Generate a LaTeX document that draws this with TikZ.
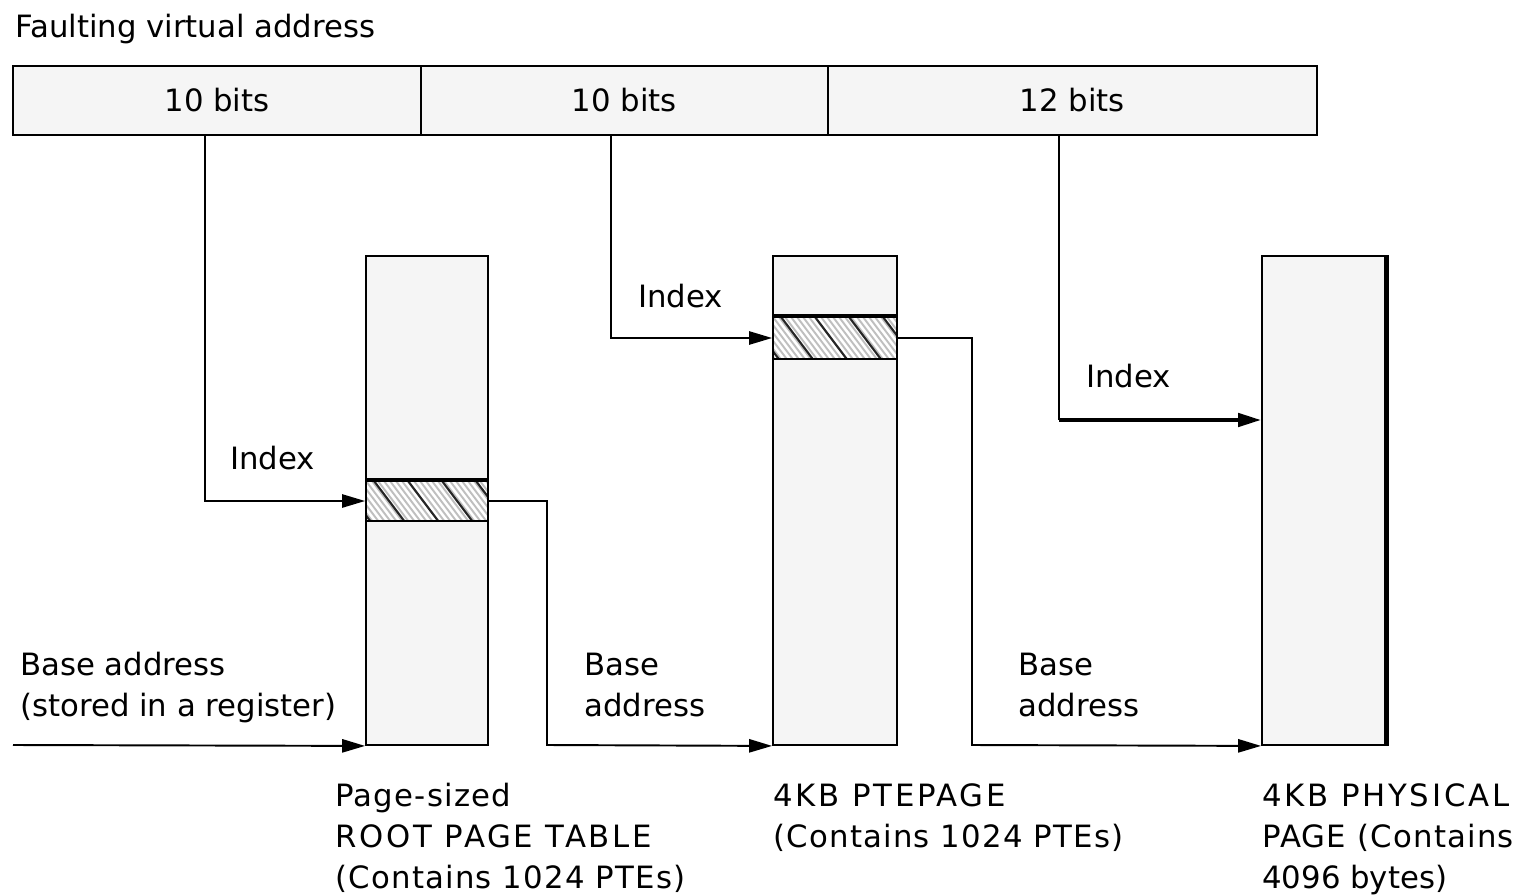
\documentclass[tikz,border=0pt]{standalone}
\usepackage{fontspec}
\setmainfont{DejaVu Sans}
\newfontfamily\spacedfont{DejaVu Sans}[LetterSpace=9]
\newfontfamily\lightspaced{DejaVu Sans}[LetterSpace=4]
\usetikzlibrary{arrows.meta,calc}
\definecolor{boxfill}{HTML}{F5F5F5}
\begin{document}
\begin{tikzpicture}[x=0.02cm,y=-0.02cm,
  box/.style={draw, fill=boxfill, line width=1.1pt, inner sep=0, font=\fontsize{17.5}{23}\selectfont},
  hatch/.style={draw, fill=white, line width=1.1pt, inner sep=0,
    path picture={
      \foreach \k in {-10,...,24}{\draw[gray!50,line width=1.1pt] ($(path picture bounding box.north west)+(\k*6,0)$) -- ++(34,45);}
      \foreach \k in {-2,...,5}{\draw[black!85,line width=1.2pt] ($(path picture bounding box.north west)+(\k*34+8,0)$) -- ++(34,45);}
    }},
  conn/.style={line width=1.1pt, -{Triangle[length=13pt,width=7.5pt]}},
  lbl/.style={font=\fontsize{17.5}{23}\selectfont, inner sep=0, anchor=base west}]
\useasboundingbox (0,0) rectangle (1531,895);

% title
\node[lbl] (title) at (15,38) {Faulting virtual address};

% address bar
\node[box, minimum width=8.16cm, minimum height=1.38cm] (seg1) at (217,100.5) {10 bits};
\node[box, minimum width=8.14cm, minimum height=1.38cm] (seg2) at (624.5,100.5) {10 bits};
\node[box, minimum width=9.78cm, minimum height=1.38cm] (seg3) at (1072.5,100.5) {12 bits};

% page boxes
\node[box, minimum width=2.44cm, minimum height=9.78cm] (root) at (427,500.5) {};
\node[box, minimum width=2.48cm, minimum height=9.78cm] (pte) at (835,500.5) {};
\node[box, minimum width=2.48cm, minimum height=9.78cm] (phys) at (1324,500.5) {};
\draw[line width=2.6pt] ([xshift=-0.2pt]phys.north east) -- ([xshift=-0.2pt]phys.south east);

% hatched entries
\node[hatch, minimum width=2.44cm, minimum height=0.80cm] (rootpte) at (427,501) {};
\node[hatch, minimum width=2.48cm, minimum height=0.84cm] (ptepte) at (835,338) {};
\draw[line width=2.6pt] (rootpte.north west) -- (rootpte.north east);
\draw[line width=2.6pt] (ptepte.north west) -- (ptepte.north east);

% connector endpoints
\coordinate (t1) at (205,135);
\coordinate (t2) at (611,135);
\coordinate (t3) at (1059,135);
\coordinate (physin) at (phys.west |- 0,420);
\coordinate (c3) at (t3 |- physin);
\coordinate (regin) at (13,745);
\coordinate (j1) at (547,745);
\coordinate (j2) at (972,745);

% connectors
\draw[conn] (t1) |- (rootpte.west);
\draw[conn] (t2) |- (ptepte.west);
\draw[line width=1.1pt] (t3) -- (c3);
\draw[conn, line width=2.2pt] (c3) -- (physin);
\draw[conn] (regin) -- (root.south west);
\draw[conn] (rootpte.east) -| (j1) -- (pte.south west);
\draw[conn] (ptepte.east) -| (j2) -- (phys.south west);

% labels
\node[lbl] (idx1) at (230,469) {Index};
\node[lbl] (idx2) at (638,307) {Index};
\node[lbl] (idx3) at (1086,387) {Index};

\node[lbl] (ba1a) at (20,675) {Base address};
\node[lbl] (ba1b) at (20,716) {(stored in a register)};
\node[lbl] (ba2a) at (584,675) {Base};
\node[lbl] (ba2b) at (584,716) {address};
\node[lbl] (ba3a) at (1018,675) {Base};
\node[lbl] (ba3b) at (1018,716) {address};

\node[lbl] (rl1) at (335,806) {\lightspaced Page-sized};
\node[lbl] (rl2) at (335,847) {\spacedfont ROOT PAGE TABLE};
\node[lbl] (rl3) at (335,888) {\lightspaced (Contains 1024 PTEs)};
\node[lbl] (pl1) at (773,806) {\spacedfont 4KB PTEPAGE};
\node[lbl] (pl2) at (773,847) {\lightspaced (Contains 1024 PTEs)};
\node[lbl] (hl1) at (1262,806) {\spacedfont 4KB PHYSICAL};
\node[lbl] (hl2) at (1262,847) {\lightspaced PAGE (Contains};
\node[lbl] (hl3) at (1262,888) {4096 bytes)};
\end{tikzpicture}
\end{document}
